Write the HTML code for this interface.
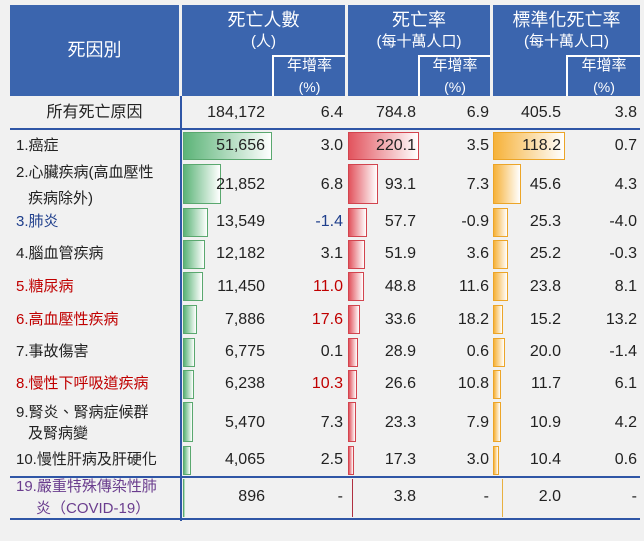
<!DOCTYPE html>
<html><head><meta charset="utf-8"><style>
body{margin:0;width:644px;height:541px;background:#f1f1f1;position:relative;overflow:hidden;font-family:"Liberation Sans","Noto Sans CJK TC",sans-serif;color:#222}
div{position:absolute;box-sizing:border-box}
.h{background:#3b65ae;color:#fff;text-align:center}
.t{font-size:15px;line-height:18px;white-space:nowrap}
.r{text-align:right;font-size:16px}
.g{background:linear-gradient(90deg,#5cb478,#ffffff);border:1px solid #5aa86f}
.rd{background:linear-gradient(90deg,#e2545e,#ffffff);border:1px solid #d2444e}
.o{background:linear-gradient(90deg,#f6b23a,#ffffff);border:1px solid #eca528}
.red{color:#c00000}.blu{color:#1f3f8c}.pur{color:#6a3d8e}
</style></head><body>
<div class="h" style="left:10px;top:5px;width:169px;height:91px"></div>
<div class="h" style="left:182px;top:5px;width:163px;height:91px"></div>
<div class="h" style="left:348px;top:5px;width:142px;height:91px"></div>
<div class="h" style="left:493px;top:5px;width:147px;height:91px"></div>
<div class="h" style="left:272px;top:55px;width:73px;height:41px;border-left:2px solid #fff;border-top:2px solid #fff"></div>
<div class="h" style="left:418px;top:55px;width:72px;height:41px;border-left:2px solid #fff;border-top:2px solid #fff"></div>
<div class="h" style="left:566px;top:55px;width:74px;height:41px;border-left:2px solid #fff;border-top:2px solid #fff"></div>
<div class="t" style="left:10px;top:40px;width:169px;text-align:center;color:#fff;font-size:18px;line-height:20px">死因別</div>
<div class="t" style="left:182px;top:10px;width:163px;text-align:center;color:#fff;font-size:18px;line-height:20px">死亡人數</div>
<div class="t" style="left:182px;top:33px;width:163px;text-align:center;color:#fff;font-size:15px">(人)</div>
<div class="t" style="left:348px;top:10px;width:142px;text-align:center;color:#fff;font-size:18px;line-height:20px">死亡率</div>
<div class="t" style="left:348px;top:33px;width:142px;text-align:center;color:#fff;font-size:15px">(每十萬人口)</div>
<div class="t" style="left:493px;top:10px;width:147px;text-align:center;color:#fff;font-size:18px;line-height:20px">標準化死亡率</div>
<div class="t" style="left:493px;top:33px;width:147px;text-align:center;color:#fff;font-size:15px">(每十萬人口)</div>
<div class="t" style="left:274px;top:57px;width:71px;text-align:center;color:#fff;font-size:15px">年增率</div>
<div class="t" style="left:274px;top:78px;width:71px;text-align:center;color:#fff;font-size:14px">(%)</div>
<div class="t" style="left:420px;top:57px;width:70px;text-align:center;color:#fff;font-size:15px">年增率</div>
<div class="t" style="left:420px;top:78px;width:70px;text-align:center;color:#fff;font-size:14px">(%)</div>
<div class="t" style="left:568px;top:57px;width:72px;text-align:center;color:#fff;font-size:15px">年增率</div>
<div class="t" style="left:568px;top:78px;width:72px;text-align:center;color:#fff;font-size:14px">(%)</div>
<div style="left:180px;top:96px;width:2px;height:425px;background:#2f56a6"></div>
<div style="left:10px;top:128px;width:630px;height:2px;background:#2f56a6"></div>
<div style="left:10px;top:476px;width:630px;height:2px;background:#2f56a6"></div>
<div style="left:10px;top:518px;width:630px;height:2px;background:#2f56a6"></div>
<div class="g" style="left:183px;top:132px;width:89px;height:28px"></div>
<div class="rd" style="left:348px;top:132px;width:71px;height:28px"></div>
<div class="o" style="left:493px;top:132px;width:72px;height:28px"></div>
<div class="g" style="left:183px;top:164px;width:38px;height:40px"></div>
<div class="rd" style="left:348px;top:164px;width:30px;height:40px"></div>
<div class="o" style="left:493px;top:164px;width:28px;height:40px"></div>
<div class="g" style="left:183px;top:208px;width:25px;height:29px"></div>
<div class="rd" style="left:348px;top:208px;width:19px;height:29px"></div>
<div class="o" style="left:493px;top:208px;width:15px;height:29px"></div>
<div class="g" style="left:183px;top:240px;width:22px;height:29px"></div>
<div class="rd" style="left:348px;top:240px;width:17px;height:29px"></div>
<div class="o" style="left:493px;top:240px;width:15px;height:29px"></div>
<div class="g" style="left:183px;top:272px;width:20px;height:29px"></div>
<div class="rd" style="left:348px;top:272px;width:16px;height:29px"></div>
<div class="o" style="left:493px;top:272px;width:15px;height:29px"></div>
<div class="g" style="left:183px;top:305px;width:14px;height:29px"></div>
<div class="rd" style="left:348px;top:305px;width:12px;height:29px"></div>
<div class="o" style="left:493px;top:305px;width:10px;height:29px"></div>
<div class="g" style="left:183px;top:338px;width:12px;height:29px"></div>
<div class="rd" style="left:348px;top:338px;width:10px;height:29px"></div>
<div class="o" style="left:493px;top:338px;width:12px;height:29px"></div>
<div class="g" style="left:183px;top:370px;width:11px;height:29px"></div>
<div class="rd" style="left:348px;top:370px;width:9px;height:29px"></div>
<div class="o" style="left:493px;top:370px;width:8px;height:29px"></div>
<div class="g" style="left:183px;top:402px;width:10px;height:40px"></div>
<div class="rd" style="left:348px;top:402px;width:8px;height:40px"></div>
<div class="o" style="left:493px;top:402px;width:8px;height:40px"></div>
<div class="g" style="left:183px;top:446px;width:8px;height:29px"></div>
<div class="rd" style="left:348px;top:446px;width:6px;height:29px"></div>
<div class="o" style="left:493px;top:446px;width:6px;height:29px"></div>
<div class="g" style="left:183px;top:479px;width:2px;height:38px;border-width:0 0 0 1px"></div>
<div class="rd" style="left:352px;top:479px;width:1px;height:38px;border:none;background:#b03040"></div>
<div class="o" style="left:502px;top:479px;width:1px;height:38px;border:none;background:#e8b040"></div>
<div class="t" style="left:10px;top:104px;width:169px;text-align:center;font-size:16px">所有死亡原因</div>
<div class="t" style="left:16px;top:137px">1.癌症</div>
<div class="t" style="left:16px;top:164px">2.心臟疾病(高血壓性</div>
<div class="t" style="left:28px;top:190px">疾病除外)</div>
<div class="t blu" style="left:16px;top:213px">3.肺炎</div>
<div class="t" style="left:16px;top:245px">4.腦血管疾病</div>
<div class="t red" style="left:16px;top:278px">5.糖尿病</div>
<div class="t red" style="left:16px;top:311px">6.高血壓性疾病</div>
<div class="t" style="left:16px;top:343px">7.事故傷害</div>
<div class="t red" style="left:16px;top:375px">8.慢性下呼吸道疾病</div>
<div class="t" style="left:16px;top:404px">9.腎炎、腎病症候群</div>
<div class="t" style="left:28px;top:425px">及腎病變</div>
<div class="t" style="left:16px;top:451px">10.慢性肝病及肝硬化</div>
<div class="t pur" style="left:16px;top:478px">19.嚴重特殊傳染性肺</div>
<div class="t pur" style="left:36px;top:500px">炎（COVID-19）</div>
<div class="t r" style="left:185px;top:104px;width:80px">184,172</div><div class="t r" style="left:283px;top:104px;width:60px">6.4</div><div class="t r" style="left:356px;top:104px;width:60px">784.8</div><div class="t r" style="left:429px;top:104px;width:60px">6.9</div><div class="t r" style="left:501px;top:104px;width:60px">405.5</div><div class="t r" style="left:577px;top:104px;width:60px">3.8</div>
<div class="t r" style="left:185px;top:137px;width:80px">51,656</div><div class="t r" style="left:283px;top:137px;width:60px">3.0</div><div class="t r" style="left:356px;top:137px;width:60px">220.1</div><div class="t r" style="left:429px;top:137px;width:60px">3.5</div><div class="t r" style="left:501px;top:137px;width:60px">118.2</div><div class="t r" style="left:577px;top:137px;width:60px">0.7</div>
<div class="t r" style="left:185px;top:176px;width:80px">21,852</div><div class="t r" style="left:283px;top:176px;width:60px">6.8</div><div class="t r" style="left:356px;top:176px;width:60px">93.1</div><div class="t r" style="left:429px;top:176px;width:60px">7.3</div><div class="t r" style="left:501px;top:176px;width:60px">45.6</div><div class="t r" style="left:577px;top:176px;width:60px">4.3</div>
<div class="t r" style="left:185px;top:213px;width:80px">13,549</div><div class="t r blu" style="left:283px;top:213px;width:60px">-1.4</div><div class="t r" style="left:356px;top:213px;width:60px">57.7</div><div class="t r" style="left:429px;top:213px;width:60px">-0.9</div><div class="t r" style="left:501px;top:213px;width:60px">25.3</div><div class="t r" style="left:577px;top:213px;width:60px">-4.0</div>
<div class="t r" style="left:185px;top:245px;width:80px">12,182</div><div class="t r" style="left:283px;top:245px;width:60px">3.1</div><div class="t r" style="left:356px;top:245px;width:60px">51.9</div><div class="t r" style="left:429px;top:245px;width:60px">3.6</div><div class="t r" style="left:501px;top:245px;width:60px">25.2</div><div class="t r" style="left:577px;top:245px;width:60px">-0.3</div>
<div class="t r" style="left:185px;top:278px;width:80px">11,450</div><div class="t r red" style="left:283px;top:278px;width:60px">11.0</div><div class="t r" style="left:356px;top:278px;width:60px">48.8</div><div class="t r" style="left:429px;top:278px;width:60px">11.6</div><div class="t r" style="left:501px;top:278px;width:60px">23.8</div><div class="t r" style="left:577px;top:278px;width:60px">8.1</div>
<div class="t r" style="left:185px;top:311px;width:80px">7,886</div><div class="t r red" style="left:283px;top:311px;width:60px">17.6</div><div class="t r" style="left:356px;top:311px;width:60px">33.6</div><div class="t r" style="left:429px;top:311px;width:60px">18.2</div><div class="t r" style="left:501px;top:311px;width:60px">15.2</div><div class="t r" style="left:577px;top:311px;width:60px">13.2</div>
<div class="t r" style="left:185px;top:343px;width:80px">6,775</div><div class="t r" style="left:283px;top:343px;width:60px">0.1</div><div class="t r" style="left:356px;top:343px;width:60px">28.9</div><div class="t r" style="left:429px;top:343px;width:60px">0.6</div><div class="t r" style="left:501px;top:343px;width:60px">20.0</div><div class="t r" style="left:577px;top:343px;width:60px">-1.4</div>
<div class="t r" style="left:185px;top:375px;width:80px">6,238</div><div class="t r red" style="left:283px;top:375px;width:60px">10.3</div><div class="t r" style="left:356px;top:375px;width:60px">26.6</div><div class="t r" style="left:429px;top:375px;width:60px">10.8</div><div class="t r" style="left:501px;top:375px;width:60px">11.7</div><div class="t r" style="left:577px;top:375px;width:60px">6.1</div>
<div class="t r" style="left:185px;top:414px;width:80px">5,470</div><div class="t r" style="left:283px;top:414px;width:60px">7.3</div><div class="t r" style="left:356px;top:414px;width:60px">23.3</div><div class="t r" style="left:429px;top:414px;width:60px">7.9</div><div class="t r" style="left:501px;top:414px;width:60px">10.9</div><div class="t r" style="left:577px;top:414px;width:60px">4.2</div>
<div class="t r" style="left:185px;top:451px;width:80px">4,065</div><div class="t r" style="left:283px;top:451px;width:60px">2.5</div><div class="t r" style="left:356px;top:451px;width:60px">17.3</div><div class="t r" style="left:429px;top:451px;width:60px">3.0</div><div class="t r" style="left:501px;top:451px;width:60px">10.4</div><div class="t r" style="left:577px;top:451px;width:60px">0.6</div>
<div class="t r" style="left:185px;top:488px;width:80px">896</div><div class="t r" style="left:283px;top:488px;width:60px">-</div><div class="t r" style="left:356px;top:488px;width:60px">3.8</div><div class="t r" style="left:429px;top:488px;width:60px">-</div><div class="t r" style="left:501px;top:488px;width:60px">2.0</div><div class="t r" style="left:577px;top:488px;width:60px">-</div>
</body></html>
